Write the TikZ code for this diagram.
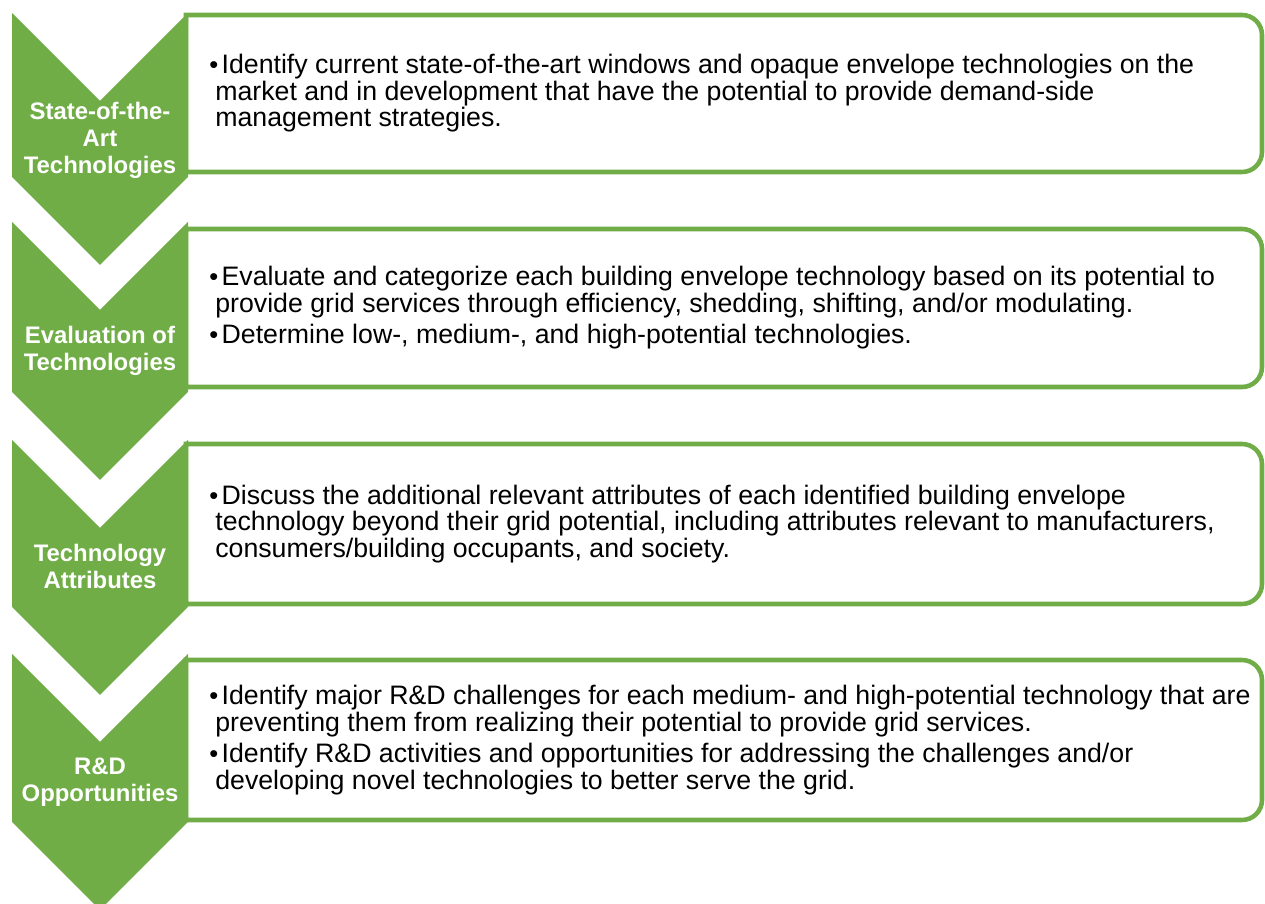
\documentclass[tikz,border=0pt]{standalone}
\usepackage{fontspec}
\setmainfont{Liberation Sans}
\usepackage{tikz}
\definecolor{stepgreen}{RGB}{112,173,71}
\tikzstyle{chevron} = [fill=stepgreen, draw=none]
\tikzstyle{panel} = [draw=stepgreen, line width=2.6pt]
\tikzstyle{steptitle} = [font=\fontsize{13.6}{15.4}\selectfont\bfseries, text=white, align=center, inner sep=0pt]
\tikzstyle{stepnotes} = [font=\fontsize{15.2}{15.1}\selectfont, align=left, anchor=west, inner sep=0pt]
\newcommand{\bul}{\makebox[7pt][l]{\fontsize{14.5}{14.5}\selectfont\textbullet}}
\newcommand{\cont}{\hspace*{3.4pt}}

\begin{document}
\begin{tikzpicture}
\useasboundingbox[fill=white] (0,0) rectangle (25.3,-18.08);

% Panels - drawn first, the chevrons cover their left ends
\draw[panel] (3.72,-0.30) -- (24.84,-0.30) arc[start angle=90, end angle=0, radius=0.4]
  -- (25.24,-3.04) arc[start angle=0, end angle=-90, radius=0.4] -- (3.72,-3.44) -- cycle;
\draw[panel] (3.72,-4.58) -- (24.84,-4.58) arc[start angle=90, end angle=0, radius=0.4]
  -- (25.24,-7.34) arc[start angle=0, end angle=-90, radius=0.4] -- (3.72,-7.74) -- cycle;
\draw[panel] (3.72,-8.88) -- (24.84,-8.88) arc[start angle=90, end angle=0, radius=0.4]
  -- (25.24,-11.68) arc[start angle=0, end angle=-90, radius=0.4] -- (3.72,-12.08) -- cycle;
\draw[panel] (3.72,-13.20) -- (24.84,-13.20) arc[start angle=90, end angle=0, radius=0.4]
  -- (25.24,-16.00) arc[start angle=0, end angle=-90, radius=0.4] -- (3.72,-16.40) -- cycle;

% Chevrons
\fill[chevron] (0.24,-0.26) -- (2,-2.02) -- (3.76,-0.26) -- (3.76,-3.54) -- (2,-5.30) -- (0.24,-3.54) -- cycle;
\fill[chevron] (0.24,-4.44) -- (2,-6.20) -- (3.76,-4.44) -- (3.76,-7.84) -- (2,-9.60) -- (0.24,-7.84) -- cycle;
\fill[chevron] (0.24,-8.80) -- (2,-10.56) -- (3.76,-8.80) -- (3.76,-12.14) -- (2,-13.90) -- (0.24,-12.14) -- cycle;
\fill[chevron] (0.24,-13.08) -- (2,-14.84) -- (3.76,-13.08) -- (3.76,-16.44) -- (2,-18.20) -- (0.24,-16.44) -- cycle;

% Step titles
\node[steptitle] (sota) at (2,-2.80) {State-of-the-\\Art\\Technologies};
\node[steptitle] (evaluation) at (2,-7.02) {Evaluation of\\Technologies};
\node[steptitle] (attributes) at (2,-11.32) {Technology\\Attributes};
\node[steptitle] (rnd) at (2,-15.64) {R\&D\\Opportunities};

% Step descriptions
\node[stepnotes] (sotanotes) at (4.18,-1.87) {%
\bul Identify current state-of-the-art windows and opaque envelope technologies on the\\
\cont market and in development that have the potential to provide demand-side\\
\cont management strategies.};
\node[stepnotes] (evaluationnotes) at (4.18,-6.16) {%
\bul Evaluate and categorize each building envelope technology based on its potential to\\
\cont provide grid services through efficiency, shedding, shifting, and/or modulating.\\[2.8pt]
\bul Determine low-, medium-, and high-potential technologies.};
\node[stepnotes] (attributesnotes) at (4.18,-10.48) {%
\bul Discuss the additional relevant attributes of each identified building envelope\\
\cont technology beyond their grid potential, including attributes relevant to manufacturers,\\
\cont consumers/building occupants, and society.};
\node[stepnotes] (rndnotes) at (4.18,-14.80) {%
\bul Identify major R\&D challenges for each medium- and high-potential technology that are\\
\cont preventing them from realizing their potential to provide grid services.\\[2.8pt]
\bul Identify R\&D activities and opportunities for addressing the challenges and/or\\
\cont developing novel technologies to better serve the grid.};
\end{tikzpicture}
\end{document}
